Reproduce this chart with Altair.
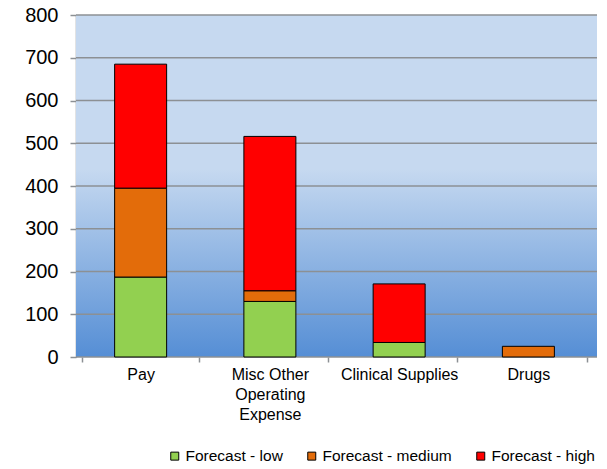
import altair as alt
import pandas as pd

# Cost categories and the three forecast scenarios
categories = ["Pay", "Misc Other Operating Expense", "Clinical Supplies", "Drugs"]
series = ["Forecast - low", "Forecast - medium", "Forecast - high"]
low = [187, 130, 34, 0]
medium = [208, 25, 0, 25]
high = [290, 361, 137, 0]
colors = ["#92D050", "#E36C0A", "#FF0000"]
y_ticks = [0, 100, 200, 300, 400, 500, 600, 700, 800]

rows = []
for i, name in enumerate(series):
    vals = [low, medium, high][i]
    for cat, v in zip(categories, vals):
        if v > 0:
            rows.append({"category": cat, "series": name, "order": i, "value": v})
df = pd.DataFrame(rows)
grid_df = pd.DataFrame({"v": y_ticks})

PLOT_W = 517   # width spanned by the category scale
AREA_W = 521   # width of the shaded plot area
PLOT_H = 342
FONT = "Liberation Sans"
GRID = "#8C9094"

y_scale = alt.Scale(domain=[0, 800], nice=False)
y_axis = alt.Axis(
    values=y_ticks, grid=False, title=None,
    labelFontSize=20, labelColor="black", labelPadding=12,
    tickSize=6, tickColor=GRID, tickWidth=1.5,
    domainColor=GRID, domainWidth=1.5,
)

background = alt.Chart(pd.DataFrame({"a": [0]})).mark_rect(
    fill=alt.Gradient(
        gradient="linear", x1=0, x2=0, y1=0, y2=1,
        stops=[
            alt.GradientStop(offset=0, color="#C6D9F0"),
            alt.GradientStop(offset=0.45, color="#C6D9F0"),
            alt.GradientStop(offset=1, color="#558ED5"),
        ],
    )
).encode(
    x=alt.value(0), x2=alt.value(AREA_W), y=alt.value(0), y2=alt.value(PLOT_H)
)

gridlines = alt.Chart(grid_df).mark_rule(color=GRID, strokeWidth=1.5).encode(
    y=alt.Y("v:Q", scale=y_scale, axis=y_axis),
    x=alt.value(0),
    x2=alt.value(AREA_W),
)

bars = alt.Chart(df).mark_bar(size=52, stroke="black", strokeWidth=1).encode(
    x=alt.X(
        "category:N", sort=categories, title=None,
        axis=alt.Axis(
            labelAngle=0, labelFontSize=16, labelColor="black",
            labelPadding=4, labelLineHeight=20, labelLimit=300,
            labelExpr="datum.label == 'Misc Other Operating Expense' ? ['Misc Other', 'Operating', 'Expense'] : datum.label",
            tickBand="extent", tickSize=5, tickColor=GRID, tickWidth=1.5,
            domain=False, grid=False,
        ),
    ),
    y=alt.Y("value:Q", stack="zero", scale=y_scale, axis=y_axis),
    color=alt.Color(
        "series:N",
        scale=alt.Scale(domain=series, range=colors),
        legend=alt.Legend(
            title=None, orient="none", direction="horizontal",
            legendX=91, legendY=433,
            symbolType="square", symbolSize=64,
            symbolStrokeColor="black", symbolStrokeWidth=1,
            labelFontSize=15.5, labelColor="black", labelOffset=3,
            columnPadding=21,
        ),
    ),
    order=alt.Order("order:Q"),
)

chart = alt.layer(background, gridlines, bars).properties(
    width=PLOT_W, height=PLOT_H,
    autosize=alt.AutoSizeParams(type="none"),
    padding={"left": 76, "top": 15, "right": 14, "bottom": 112},
).configure(font=FONT).configure_view(stroke=None)

chart.save("out.html", embed_options={"renderer": "svg", "actions": False})
